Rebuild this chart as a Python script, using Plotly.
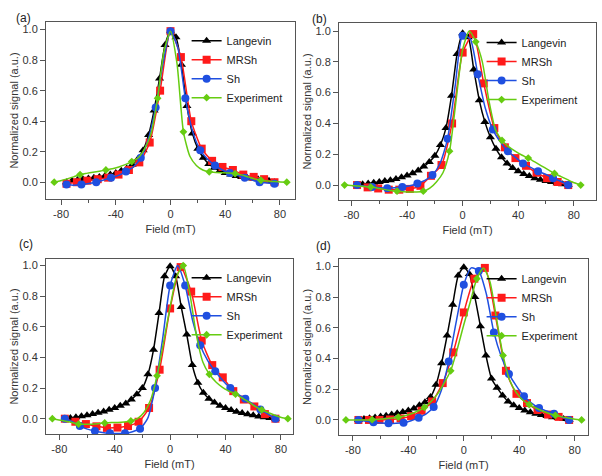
import plotly.graph_objects as go
import numpy as np

# field grids (mT) for each model / measurement
langevin_x = np.linspace(-76, 76, 39)
mrsh_x = np.linspace(-76, 76, 21)
sh_x = np.linspace(-76, 76, 29)
exp_x = np.linspace(-85, 85, 37)

# ---- panel (a)
langevin_a = [0.0, 0.01, 0.015, 0.02, 0.025, 0.03, 0.035, 0.04, 0.05, 0.06, 0.075, 0.09, 0.115,
              0.15, 0.21, 0.31, 0.47, 0.68, 0.9, 0.99, 0.95, 0.77, 0.5, 0.32, 0.22, 0.16, 0.12,
              0.095, 0.075, 0.06, 0.05, 0.04, 0.035, 0.03, 0.025, 0.02, 0.015, 0.01, 0.0]
mrsh_a = [-0.01, 0.0, 0.01, 0.02, 0.03, 0.05, 0.08, 0.13, 0.26, 0.6, 0.99, 0.82, 0.4, 0.22,
          0.14, 0.1, 0.08, 0.05, 0.035, 0.02, 0.0]
sh_a = [-0.015, -0.02, -0.015, -0.008, 0.0, 0.015, 0.03, 0.045, 0.07, 0.1, 0.16, 0.28, 0.49,
        0.78, 0.99, 0.88, 0.55, 0.33, 0.21, 0.15, 0.11, 0.08, 0.06, 0.045, 0.03, 0.015, 0.0,
        -0.005, -0.01]
exp_a = [0.0, 0.01, 0.022, 0.035, 0.05, 0.058, 0.065, 0.072, 0.08, 0.088, 0.1, 0.115, 0.135,
         0.16, 0.22, 0.32, 0.55, 0.86, 0.99, 0.78, 0.33, 0.17, 0.11, 0.08, 0.068, 0.064, 0.062,
         0.06, 0.056, 0.048, 0.035, 0.022, 0.013, 0.008, 0.004, 0.002, 0.0]

# ---- panel (b)
langevin_b = [0.0, 0.005, 0.01, 0.015, 0.02, 0.026, 0.032, 0.04, 0.05, 0.062, 0.077, 0.095, 0.12,
              0.15, 0.19, 0.26, 0.37, 0.58, 0.85, 0.985, 0.96, 0.75, 0.55, 0.41, 0.31, 0.235,
              0.18, 0.14, 0.11, 0.09, 0.072, 0.058, 0.045, 0.035, 0.027, 0.02, 0.012, 0.006, 0.0]
mrsh_b = [0.0, -0.015, -0.022, -0.03, -0.03, -0.025, -0.005, 0.06, 0.13, 0.4, 0.86, 0.98, 0.66,
          0.37, 0.245, 0.175, 0.125, 0.08, 0.045, 0.02, 0.0]
sh_b = [0.0, -0.008, -0.012, -0.017, -0.02, -0.018, -0.012, -0.005, 0.01, 0.03, 0.065, 0.14,
        0.3, 0.64, 0.97, 0.95, 0.72, 0.5, 0.36, 0.28, 0.22, 0.18, 0.14, 0.115, 0.09, 0.07,
        0.045, 0.025, 0.0]
exp_b = [0.0, -0.003, -0.006, -0.01, -0.013, -0.02, -0.028, -0.035, -0.04, -0.043, -0.045,
         -0.045, -0.04, -0.02, 0.02, 0.08, 0.22, 0.55, 0.88, 1.0, 0.93, 0.8, 0.55, 0.36, 0.29,
         0.25, 0.22, 0.195, 0.175, 0.15, 0.125, 0.1, 0.075, 0.055, 0.035, 0.015, 0.0]

# ---- panel (c)
langevin_c = [0.0, 0.005, 0.01, 0.016, 0.022, 0.03, 0.038, 0.047, 0.058, 0.07, 0.085, 0.1, 0.125,
              0.16, 0.2, 0.29, 0.45, 0.69, 0.93, 0.995, 0.93, 0.73, 0.55, 0.35, 0.235, 0.17,
              0.13, 0.105, 0.085, 0.07, 0.057, 0.046, 0.037, 0.029, 0.022, 0.015, 0.009, 0.004, 0.0]
mrsh_c = [0.0, -0.02, -0.035, -0.05, -0.06, -0.058, -0.048, -0.02, 0.07, 0.32, 0.72, 0.99, 0.83,
          0.51, 0.35, 0.27, 0.18, 0.125, 0.08, 0.03, 0.0]
sh_c = [0.0, -0.02, -0.048, -0.068, -0.08, -0.09, -0.095, -0.097, -0.095, -0.085, -0.065, 0.0,
        0.2, 0.52, 0.87, 1.0, 0.87, 0.64, 0.48, 0.38, 0.31, 0.25, 0.2, 0.16, 0.13, 0.095, 0.06,
        0.03, 0.0]
exp_c = [0.0, -0.008, -0.016, -0.025, -0.035, -0.037, -0.036, -0.033, -0.028, -0.025, -0.025,
         -0.022, -0.015, 0.0, 0.04, 0.12, 0.28, 0.5, 0.73, 0.93, 1.0, 0.82, 0.55, 0.37, 0.29,
         0.24, 0.205, 0.18, 0.16, 0.135, 0.11, 0.08, 0.058, 0.04, 0.022, 0.008, 0.0]

# ---- panel (d)
langevin_d = [0.0, 0.006, 0.011, 0.016, 0.022, 0.028, 0.035, 0.043, 0.052, 0.062, 0.075, 0.095,
              0.115, 0.15, 0.23, 0.37, 0.55, 0.75, 0.94, 0.995, 0.95, 0.8, 0.61, 0.42, 0.27, 0.21,
              0.16, 0.12, 0.095, 0.077, 0.062, 0.05, 0.04, 0.032, 0.025, 0.018, 0.012, 0.006, 0.0]
mrsh_d = [0.0, 0.0, 0.0, 0.003, 0.01, 0.025, 0.06, 0.12, 0.24, 0.44, 0.7, 0.92, 0.99, 0.68,
          0.32, 0.17, 0.11, 0.065, 0.035, 0.02, 0.0]
sh_d = [0.0, -0.008, -0.015, -0.02, -0.022, -0.022, -0.018, -0.005, 0.015, 0.04, 0.085, 0.19,
        0.38, 0.64, 0.88, 0.99, 0.97, 0.82, 0.57, 0.41, 0.3, 0.22, 0.155, 0.11, 0.078, 0.058,
        0.04, 0.02, 0.0]
exp_d = [0.0, 0.0, 0.0, 0.0, 0.002, 0.005, 0.008, 0.012, 0.018, 0.028, 0.04, 0.058, 0.082, 0.12,
         0.17, 0.24, 0.32, 0.46, 0.62, 0.77, 0.92, 0.99, 0.9, 0.66, 0.42, 0.26, 0.18, 0.13, 0.1,
         0.078, 0.058, 0.042, 0.03, 0.02, 0.012, 0.005, 0.0]

series_names = ["Langevin", "MRSh", "Sh", "Experiment"]
panel_labels = ["(a)", "(b)", "(c)", "(d)"]
x_ticks = [-80, -40, 0, 40, 80]
x_tick_text = ["-80", "-40", "0", "40", "80"]
x_minor = [-60, -20, 20, 60]
y_ticks = [0, 0.2, 0.4, 0.6, 0.8, 1.0]
y_tick_text = ["0.0", "0.2", "0.4", "0.6", "0.8", "1.0"]

panels = [
    [langevin_a, mrsh_a, sh_a, exp_a],
    [langevin_b, mrsh_b, sh_b, exp_b],
    [langevin_c, mrsh_c, sh_c, exp_c],
    [langevin_d, mrsh_d, sh_d, exp_d],
]
grids = [langevin_x, mrsh_x, sh_x, exp_x]

# style per series: colour, symbol, size, marker every n-th point
styles = [
    ("#000000", "triangle-up", 8, 1),
    ("#ff1a1a", "square", 8, 1),
    ("#1f4fe0", "circle", 8, 2),
    ("#66cc11", "diamond", 6, 4),
]

W, H = 602, 476
# plot boxes in pixels: left, right, top, bottom
boxes = [(46, 295, 22, 199), (339, 596, 23, 200), (46, 293, 259, 434), (339, 588, 259, 435)]
xranges = [[-91, 91], [-89, 96], [-89.6, 88.7], [-90, 89.6]]
yranges = [[-0.11, 1.05], [-0.097, 1.052], [-0.10, 1.043], [-0.098, 1.048]]
legend_pos = [(0.31, 0.945), (0.80, 0.941), (0.31, 0.447), (0.80, 0.445)]
label_pos = [(14, 9), (319, 10), (17, 244), (323, 246)]

font = "Liberation Sans, Arial, sans-serif"
fig = go.Figure()

for p in range(4):
    sfx = "" if p == 0 else str(p + 1)
    for s in range(4):
        col, sym, size, step = styles[s]
        xs = grids[s]
        ys = panels[p][s]
        mcol = [col if i % step == 0 else "rgba(0,0,0,0)" for i in range(len(xs))]
        fig.add_trace(go.Scatter(
            x=xs, y=ys, name=series_names[s], mode="lines+markers",
            line=dict(color=col, width=1.5, shape="spline", smoothing=0.6),
            marker=dict(color=mcol, symbol=sym, size=size, line=dict(width=0)),
            xaxis="x" + sfx, yaxis="y" + sfx, legend="legend" + sfx,
        ))

layout = dict(width=W, height=H, margin=dict(l=0, r=0, t=0, b=0),
              plot_bgcolor="white", paper_bgcolor="white",
              font=dict(family=font, size=11, color="#333"))
annotations = []
for p in range(4):
    sfx = "" if p == 0 else str(p + 1)
    l, r, t, b = boxes[p]
    axcommon = dict(showline=True, mirror=True, linecolor="#555", linewidth=1,
                    ticks="outside", ticklen=5, tickcolor="#555", showgrid=False,
                    zeroline=False, automargin=False, tickfont=dict(size=11, color="#333"))
    layout["xaxis" + sfx] = dict(
        domain=[l / W, r / W], range=xranges[p], anchor="y" + sfx,
        tickmode="array", tickvals=x_ticks, ticktext=x_tick_text,
        minor=dict(tickvals=x_minor, ticks="outside", ticklen=3, tickcolor="#555"),
        title=dict(text="Field (mT)", font=dict(size=11, color="#333"), standoff=6),
        **axcommon)
    layout["yaxis" + sfx] = dict(
        domain=[1 - b / H, 1 - t / H], range=yranges[p], anchor="x" + sfx,
        tickmode="array", tickvals=y_ticks, ticktext=y_tick_text,
        title=dict(text="Normalized signal (a.u.)", font=dict(size=11, color="#333"), standoff=1),
        **axcommon)
    lx, ly = legend_pos[p]
    layout["legend" + sfx] = dict(x=lx, y=ly, xanchor="left", yanchor="top",
                                  bgcolor="rgba(0,0,0,0)", font=dict(size=11, color="#222"),
                                  itemwidth=30, tracegroupgap=0)
    ax_, ay_ = label_pos[p]
    annotations.append(dict(text=panel_labels[p], x=ax_ / W, y=1 - ay_ / H, xref="paper",
                            yref="paper", showarrow=False, font=dict(size=12, color="#222")))
layout["annotations"] = annotations
fig.update_layout(**layout)

# the page body has a default 8px margin; drop it so the figure sits at 0,0
fig.write_html("out.html", config={"displayModeBar": False},
               post_script="document.body.style.margin='0px';")
